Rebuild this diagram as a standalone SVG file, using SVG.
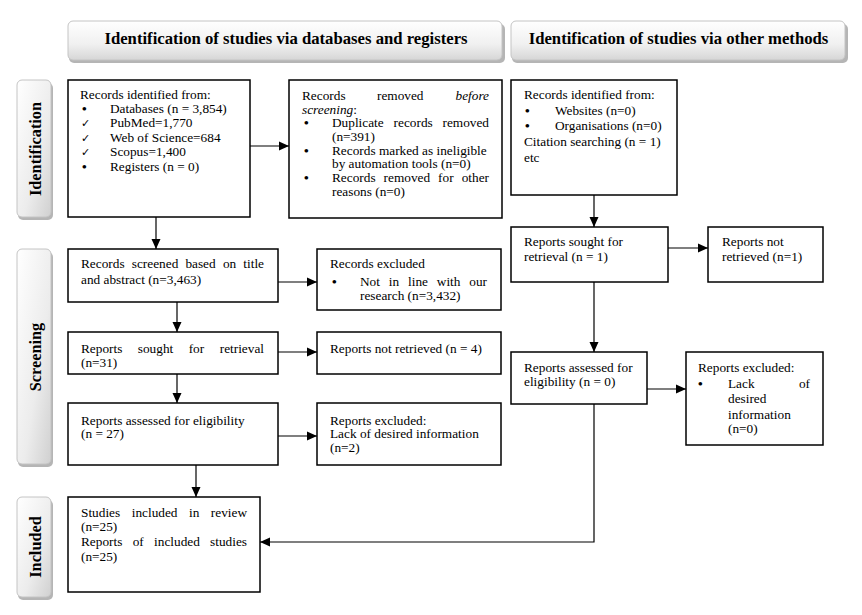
<svg xmlns="http://www.w3.org/2000/svg" width="862" height="615" viewBox="0 0 862 615">
<defs>
<linearGradient id="hg" x1="0" y1="0" x2="0" y2="1">
<stop offset="0" stop-color="#ffffff"/>
<stop offset="0.6" stop-color="#f0f0f0"/>
<stop offset="1" stop-color="#d6d6d6"/>
</linearGradient>
<linearGradient id="sg" x1="0" y1="0" x2="1" y2="1">
<stop offset="0" stop-color="#ffffff"/>
<stop offset="0.6" stop-color="#ececec"/>
<stop offset="1" stop-color="#d0d0d0"/>
</linearGradient>
<marker id="ah" markerUnits="userSpaceOnUse" markerWidth="10" markerHeight="10" refX="10" refY="5" orient="auto">
<path d="M0,0.5 L10,5 L0,9.5 z" fill="#000"/>
</marker>
</defs>
<style>
text{font-size:13.3px;fill:#000}
.hd{font-size:16.7px;font-weight:bold;text-anchor:middle}
.sd{font-size:16.3px;font-weight:bold;text-anchor:middle}
.box{fill:#fff;stroke:#000;stroke-width:1.5}
.hb{fill:url(#hg);stroke:#c4c4c4;stroke-width:1}
.sb{fill:url(#sg);stroke:#c4c4c4;stroke-width:1}
.sh{fill:#9c9c9c;opacity:0.75}
.ck{font-size:11px}
.b{font-weight:bold}
.e{text-anchor:end}
.c{fill:none;stroke:#000;stroke-width:1.2}
</style>
<g font-family="'Liberation Serif', Tinos, 'Times New Roman', 'DejaVu Serif', serif">
<g id="header-databases">
<rect class="sh" x="69" y="24" width="436" height="39" rx="5"/>
<rect class="hb" x="68" y="21" width="434" height="39" rx="5"/>
<text class="hd" x="286" y="43.5">Identification of studies via databases and registers</text>
</g>
<g id="header-other">
<rect class="sh" x="512" y="24" width="336" height="39" rx="5"/>
<rect class="hb" x="511" y="21" width="334" height="39" rx="5"/>
<text class="hd" x="678.5" y="43.5">Identification of studies via other methods</text>
</g>

<g id="label-identification">
<rect class="sh" x="18" y="83" width="35" height="137" rx="5"/>
<rect class="sb" x="17" y="80" width="34" height="137" rx="5"/>
<text class="sd" transform="translate(41,149) rotate(-90)">Identification</text>
</g>
<g id="label-screening">
<rect class="sh" x="18" y="252" width="35" height="215" rx="5"/>
<rect class="sb" x="17" y="249" width="34" height="215" rx="5"/>
<text class="sd" transform="translate(41,357) rotate(-90)">Screening</text>
</g>
<g id="label-included">
<rect class="sh" x="18" y="500" width="35" height="100" rx="5"/>
<rect class="sb" x="17" y="497" width="34" height="100" rx="5"/>
<text class="sd" transform="translate(41,547) rotate(-90)">Included</text>
</g>

<g id="records-identified">
<rect class="box" x="68" y="80" width="182" height="137"/>
<text x="80" y="98.5">Records identified from:</text>
<text class="b" x="82" y="113">•</text><text x="110" y="113">Databases (n = 3,854)</text>
<text class="ck" x="81" y="127" font-family="'DejaVu Sans', sans-serif">✓</text><text x="110" y="127.3">PubMed=1,770</text>
<text class="ck" x="81" y="141.5" font-family="'DejaVu Sans', sans-serif">✓</text><text x="110" y="141.7">Web of Science=684</text>
<text class="ck" x="81" y="156" font-family="'DejaVu Sans', sans-serif">✓</text><text x="110" y="156.1">Scopus=1,400</text>
<text class="b" x="82" y="170.5">•</text><text x="110" y="170.5">Registers (n = 0)</text>
</g>

<g id="records-removed">
<rect class="box" x="289" y="80" width="213" height="138"/>
<text x="302" y="100">Records</text><text x="377" y="100">removed</text><text class="e" x="489" y="100" font-style="italic">before</text>
<text x="302" y="113.7"><tspan font-style="italic">screening</tspan>:</text>
<text class="b" x="304" y="127.4">•</text><text x="332" y="127.4">Duplicate</text><text x="393.6" y="127.4">records</text><text class="e" x="489" y="127.4">removed</text>
<text x="332" y="141">(n=391)</text>
<text class="b" x="304" y="154.7">•</text><text x="332" y="154.7">Records marked as ineligible</text>
<text x="332" y="168.4">by automation tools (n=0)</text>
<text class="b" x="304" y="182">•</text><text x="332" y="182">Records</text><text x="383.6" y="182">removed</text><text x="438.1" y="182">for</text><text class="e" x="489" y="182">other</text>
<text x="332" y="195.7">reasons (n=0)</text>
</g>

<g id="records-identified-other">
<rect class="box" x="511" y="80" width="166" height="115"/>
<text x="524" y="99">Records identified from:</text>
<text class="b" x="525" y="114.7">•</text><text x="555" y="114.7">Websites (n=0)</text>
<text class="b" x="525" y="130.4">•</text><text x="555" y="130.4">Organisations (n=0)</text>
<text x="524" y="146.1">Citation searching (n = 1)</text>
<text x="524" y="161.8">etc</text>
</g>

<g id="reports-sought-other">
<rect class="box" x="511" y="227" width="157" height="55"/>
<text x="524" y="245.5">Reports sought for</text>
<text x="524" y="260.5">retrieval (n = 1)</text>
</g>
<g id="reports-not-retrieved-other">
<rect class="box" x="708" y="227" width="115" height="55"/>
<text x="722" y="245.5">Reports not</text>
<text x="722" y="260.5">retrieved (n=1)</text>
</g>

<g id="records-screened">
<rect class="box" x="68" y="249" width="210" height="53"/>
<text x="81" y="267.5">Records</text><text x="131.8" y="267.5">screened</text><text x="185.4" y="267.5">based</text><text x="222.9" y="267.5">on</text><text class="e" x="264" y="267.5">title</text>
<text x="81" y="284">and abstract (n=3,463)</text>
</g>
<g id="records-excluded">
<rect class="box" x="317" y="249" width="184" height="61"/>
<text x="330" y="267.5">Records excluded</text>
<text class="b" x="332" y="285.5">•</text><text x="360" y="285.5">Not</text><text x="388.8" y="285.5">in</text><text x="408" y="285.5">line</text><text x="436.8" y="285.5">with</text><text class="e" x="487" y="285.5">our</text>
<text x="360" y="300">research (n=3,432)</text>
</g>

<g id="reports-sought">
<rect class="box" x="68" y="332" width="210" height="42"/>
<text x="81" y="352.5">Reports</text><text x="137.8" y="352.5">sought</text><text x="188.7" y="352.5">for</text><text class="e" x="264" y="352.5">retrieval</text>
<text x="81" y="367">(n=31)</text>
</g>
<g id="reports-not-retrieved">
<rect class="box" x="317" y="332" width="184" height="42"/>
<text x="330" y="352.5">Reports not retrieved (n = 4)</text>
</g>

<g id="reports-assessed">
<rect class="box" x="68" y="403" width="210" height="62"/>
<text x="81" y="424.5">Reports assessed for eligibility</text>
<text x="81" y="438">(n = 27)</text>
</g>
<g id="reports-excluded">
<rect class="box" x="317" y="403" width="184" height="62"/>
<text x="330" y="424.5">Reports excluded:</text>
<text x="330" y="438">Lack of desired information</text>
<text x="330" y="452">(n=2)</text>
</g>

<g id="reports-assessed-other">
<rect class="box" x="511" y="352" width="136" height="52"/>
<text x="524" y="371.5">Reports assessed for</text>
<text x="524" y="385.5">eligibility (n = 0)</text>
</g>
<g id="reports-excluded-other">
<rect class="box" x="686" y="352" width="137" height="93"/>
<text x="698" y="371.5">Reports excluded:</text>
<text class="b" x="698" y="388">•</text><text x="728" y="388">Lack</text><text class="e" x="810" y="388">of</text>
<text x="728" y="403">desired</text>
<text x="728" y="418.5">information</text>
<text x="728" y="433">(n=0)</text>
</g>

<g id="studies-included">
<rect class="box" x="68" y="497" width="192" height="95"/>
<text x="81" y="517">Studies</text><text x="131.7" y="517">included</text><text x="189" y="517">in</text><text class="e" x="247" y="517">review</text>
<text x="81" y="531">(n=25)</text>
<text x="81" y="546">Reports</text><text x="132.7" y="546">of</text><text x="154.1" y="546">included</text><text class="e" x="247" y="546">studies</text>
<text x="81" y="561">(n=25)</text>
</g>
</g>
<g id="connectors">
<line class="c" x1="156" y1="217" x2="156" y2="249" marker-end="url(#ah)"/>
<line class="c" x1="250" y1="146" x2="289" y2="146" marker-end="url(#ah)"/>
<line class="c" x1="594" y1="195" x2="594" y2="227" marker-end="url(#ah)"/>
<line class="c" x1="668" y1="248" x2="708" y2="248" marker-end="url(#ah)"/>
<line class="c" x1="278" y1="282" x2="317" y2="282" marker-end="url(#ah)"/>
<line class="c" x1="177" y1="302" x2="177" y2="332" marker-end="url(#ah)"/>
<line class="c" x1="278" y1="352" x2="317" y2="352" marker-end="url(#ah)"/>
<line class="c" x1="177" y1="374" x2="177" y2="403" marker-end="url(#ah)"/>
<line class="c" x1="278" y1="436" x2="317" y2="436" marker-end="url(#ah)"/>
<line class="c" x1="196" y1="465" x2="196" y2="497" marker-end="url(#ah)"/>
<line class="c" x1="594" y1="282" x2="594" y2="352" marker-end="url(#ah)"/>
<line class="c" x1="647" y1="389" x2="686" y2="389" marker-end="url(#ah)"/>
<polyline class="c" points="594,404 594,542 260,542" marker-end="url(#ah)"/>
</g>
</svg>
